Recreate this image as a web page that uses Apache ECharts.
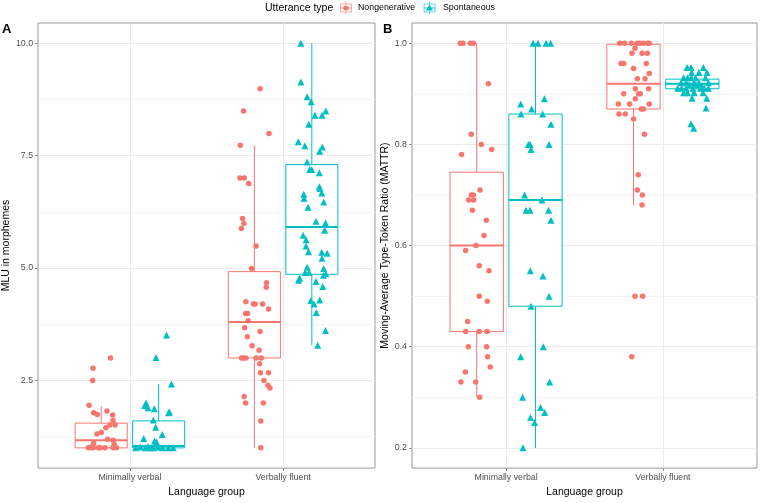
<!DOCTYPE html>
<html><head><meta charset="utf-8">
<script src="https://cdn.jsdelivr.net/npm/echarts@6/dist/echarts.min.js"></script>
<style>html,body{margin:0;padding:0;background:#fff}#c{width:760px;height:503px}</style>
</head><body><div id="c"></div>
<script>
// ---------- data ----------
const categories = ['Minimally verbal', 'Verbally fluent'];
const utteranceTypes = ['Nongenerative', 'Spontaneous'];
const mluTicks = [2.5, 5, 7.5, 10];
const mluMinor = [1.25, 3.75, 6.25, 8.75];
const mattrTicks = [0.2, 0.4, 0.6, 0.8, 1.0];
const mattrMinor = [0.3, 0.5, 0.7, 0.9];

// box stats per category: [low whisker, q1, median, q3, high whisker]
const mluNongenBox = [[1.0, 1.0, 1.17, 1.55, 1.93], [1.0, 3.0, 3.80, 4.92, 7.73]];
const mluSpontBox = [[1.0, 1.0, 1.04, 1.60, 2.42], [3.28, 4.86, 5.91, 7.30, 10.0]];
const mattrNongenBox = [[0.30, 0.43, 0.60, 0.745, 1.0], [0.68, 0.87, 0.92, 0.998, 1.0]];
const mattrSpontBox = [[0.20, 0.48, 0.69, 0.86, 1.0], [0.891, 0.91, 0.92, 0.929, 0.952]];

// jittered points: [group position (jittered), value]
const mluNongenPts = [
  [0.873,3.0],[0.759,2.77],[0.757,2.5],[0.733,1.95],[0.763,1.78],[0.787,1.74],[0.850,1.82],[0.888,1.73],
  [0.890,1.61],[0.869,1.51],[0.903,1.51],[0.843,1.45],[0.813,1.34],[0.785,1.31],[0.854,1.19],[0.890,1.17],
  [0.763,1.10],[0.757,1.04],[0.729,1.0],[0.746,1.0],[0.761,1.0],[0.794,1.0],[0.806,1.0],[0.837,1.0],
  [0.890,1.0],[0.912,1.0],[0.897,1.08],
  [1.850,8.99],[1.742,8.49],[1.908,7.99],[1.721,7.73],[1.718,7.0],[1.746,7.0],[1.776,6.88],[1.735,6.10],
  [1.744,5.99],[1.727,5.88],[1.824,5.49],[1.794,4.99],[1.892,4.67],[1.890,4.57],[1.757,4.25],[1.806,4.2],
  [1.817,4.2],[1.866,4.2],[1.905,4.09],[1.755,3.99],[1.768,3.99],[1.772,3.83],[1.748,3.67],[1.850,3.59],
  [1.766,3.47],[1.798,3.27],[1.843,3.17],[1.729,3.0],[1.740,3.0],[1.757,3.0],[1.824,3.0],[1.858,3.0],
  [1.847,2.87],[1.852,2.67],[1.905,2.67],[1.875,2.5],[1.901,2.39],[1.914,2.33],[1.746,2.14],[1.755,2.0],
  [1.871,2.0],[1.854,1.6],[1.854,1.0]
];
const mluSpontPts = [
  [1.239,3.51],[1.170,3.01],[1.271,2.42],[1.105,2.0],[1.097,1.94],[1.118,1.89],[1.159,1.87],[1.258,1.80],
  [1.252,1.78],[1.153,1.62],[1.168,1.46],[1.211,1.30],[1.090,1.21],[1.161,1.15],[1.174,1.13],[1.037,1.0],
  [1.067,1.02],[1.101,1.0],[1.118,1.03],[1.135,1.0],[1.153,1.0],[1.183,1.02],[1.213,1.0],[1.250,1.0],[1.282,1.0],
  [2.116,10.0],[2.116,9.14],[2.157,8.81],[2.183,8.70],[2.279,8.49],[2.208,8.40],[2.254,8.40],[2.168,8.20],
  [2.099,7.81],[2.142,7.72],[2.256,7.69],[2.239,7.60],[2.157,7.36],[2.174,7.19],[2.187,7.19],[2.237,7.12],
  [2.237,6.81],[2.240,6.77],[2.252,6.67],[2.135,6.64],[2.137,6.55],[2.265,6.47],[2.163,6.35],[2.215,6.04],
  [2.277,6.0],[2.271,5.84],[2.131,5.73],[2.150,5.63],[2.150,5.49],[2.166,5.36],[2.252,5.35],[2.288,5.33],
  [2.254,5.22],[2.157,5.02],[2.265,4.99],[2.144,4.90],[2.170,4.90],[2.263,4.84],[2.279,4.87],[2.108,4.78],
  [2.101,4.73],[2.215,4.70],[2.259,4.59],[2.181,4.28],[2.239,4.29],[2.202,4.20],[2.217,4.01],[2.277,3.61],[2.226,3.28]
];
const mattrNongenPts = [
  [0.708,1.0],[0.725,1.0],[0.772,1.0],[0.791,1.0],[0.887,0.92],[0.778,0.82],[0.842,0.80],[0.716,0.78],
  [0.908,0.79],[0.834,0.71],[0.778,0.70],[0.791,0.70],[0.761,0.69],[0.793,0.69],[0.785,0.67],[0.874,0.65],
  [0.859,0.62],[0.808,0.60],[0.742,0.59],[0.829,0.56],[0.891,0.55],[0.829,0.50],[0.880,0.49],[0.755,0.45],
  [0.742,0.43],[0.829,0.43],[0.878,0.43],[0.759,0.40],[0.876,0.40],[0.882,0.38],[0.899,0.36],[0.740,0.35],
  [0.712,0.33],[0.806,0.33],[0.831,0.30],
  [1.724,1.0],[1.756,1.0],[1.799,1.0],[1.835,1.0],[1.852,1.0],[1.873,1.0],[1.903,1.0],[1.913,1.0],
  [1.822,0.99],[1.803,0.98],[1.867,0.98],[1.901,0.98],[1.733,0.96],[1.750,0.96],[1.894,0.96],[1.813,0.95],
  [1.913,0.94],[1.837,0.93],[1.886,0.93],[1.824,0.91],[1.909,0.91],[1.750,0.90],[1.845,0.90],[1.856,0.90],
  [1.824,0.89],[1.716,0.88],[1.788,0.88],[1.913,0.88],[1.862,0.87],[1.875,0.87],[1.720,0.86],[1.760,0.86],
  [1.813,0.85],[1.882,0.82],[1.843,0.74],[1.837,0.71],[1.869,0.70],[1.867,0.68],[1.822,0.50],[1.871,0.50],[1.801,0.38]
];
const mattrSpontPts = [
  [1.172,1.0],[1.204,1.0],[1.255,1.0],[1.284,1.0],[1.093,0.88],[1.163,0.87],[1.244,0.89],[1.095,0.86],
  [1.233,0.86],[1.286,0.84],[1.142,0.80],[1.153,0.80],[1.274,0.80],[1.159,0.79],[1.118,0.70],[1.229,0.69],
  [1.127,0.67],[1.153,0.67],[1.271,0.67],[1.286,0.65],[1.154,0.55],[1.235,0.54],[1.274,0.50],[1.159,0.48],
  [1.237,0.40],[1.093,0.38],[1.278,0.33],[1.105,0.30],[1.220,0.28],[1.246,0.27],[1.156,0.26],[1.182,0.25],[1.108,0.20],
  [2.154,0.952],[2.179,0.952],[2.258,0.952],[2.183,0.942],[2.230,0.942],[2.281,0.942],[2.132,0.932],[2.157,0.932],
  [2.179,0.932],[2.208,0.932],[2.271,0.932],[2.116,0.922],[2.149,0.922],[2.200,0.922],[2.230,0.922],[2.290,0.922],
  [2.167,0.918],[2.218,0.918],[2.250,0.915],
  [2.094,0.911],[2.119,0.911],[2.147,0.911],[2.192,0.911],[2.239,0.911],[2.264,0.911],[2.290,0.911],[2.132,0.902],
  [2.157,0.902],[2.200,0.902],[2.256,0.902],[2.186,0.891],[2.279,0.891],[2.275,0.872],[2.179,0.841],[2.196,0.832]
];

// ---------- styling / layout ----------
const COLORS = ['#F8766D', '#00BFC4'];
const DODGE = 0.1875;
const BOX_WIDTH = 0.34;
const FONT = '"Liberation Sans", Arial, Helvetica, sans-serif';
const GRID_COLOR = '#EBEBEB';
const MINOR_COLOR = '#F3F3F3';

function boxData(stats, typeIdx) {
  return stats.map((s, ci) => [ci + 1 + (typeIdx === 0 ? -DODGE : DODGE)].concat(s));
}
function boxRender(color) {
  return function (params, api) {
    const x = api.value(0);
    const lo = api.coord([x, api.value(1)]);
    const q1 = api.coord([x, api.value(2)]);
    const md = api.coord([x, api.value(3)]);
    const q3 = api.coord([x, api.value(4)]);
    const hi = api.coord([x, api.value(5)]);
    const hw = api.size([BOX_WIDTH, 0])[0] / 2;
    const cx = lo[0];
    return {
      type: 'group', children: [
        { type: 'line', shape: { x1: cx, y1: hi[1], x2: cx, y2: q3[1] }, style: { stroke: color, lineWidth: 1 } },
        { type: 'line', shape: { x1: cx, y1: q1[1], x2: cx, y2: lo[1] }, style: { stroke: color, lineWidth: 1 } },
        { type: 'rect', shape: { x: cx - hw, y: q3[1], width: 2 * hw, height: q1[1] - q3[1] }, style: { fill: '#fff', stroke: color, lineWidth: 1 } },
        { type: 'line', shape: { x1: cx - hw, y1: md[1], x2: cx + hw, y2: md[1] }, style: { stroke: color, lineWidth: 2 } }
      ]
    };
  };
}
function gridLines(idx, majors, minors) {
  const d = [];
  minors.forEach(v => d.push({ yAxis: v, lineStyle: { color: MINOR_COLOR, width: 1, type: 'solid' } }));
  majors.forEach(v => d.push({ yAxis: v, lineStyle: { color: GRID_COLOR, width: 1, type: 'solid' } }));
  [1, 2].forEach(v => d.push({ xAxis: v, lineStyle: { color: GRID_COLOR, width: 1, type: 'solid' } }));
  return {
    type: 'scatter', xAxisIndex: idx, yAxisIndex: idx, data: [], z: 1, silent: true,
    markLine: { z: 1, symbol: ['none', 'none'], silent: true, animation: false, label: { show: false }, data: d }
  };
}
function xAxisDef(idx) {
  return {
    type: 'value', gridIndex: idx, min: 0.4, max: 2.6,
    name: 'Language group', nameLocation: 'middle', nameGap: 13,
    nameTextStyle: { fontFamily: FONT, fontSize: 10.5, color: '#000' },
    axisLine: { show: false }, splitLine: { show: false },
    axisTick: { show: true, length: 3, customValues: [1, 2], lineStyle: { color: '#8a8a8a' } },
    axisLabel: { customValues: [1, 2], margin: 5, fontFamily: FONT, fontSize: 8.8, color: '#4D4D4D',
      formatter: v => categories[Math.round(v) - 1] }
  };
}
function yAxisDef(idx, min, max, ticks, name, gap) {
  return {
    type: 'value', gridIndex: idx, min: min, max: max,
    name: name, nameLocation: 'middle', nameGap: gap,
    nameTextStyle: { fontFamily: FONT, fontSize: 10.5, color: '#000' },
    axisLine: { show: false }, splitLine: { show: false },
    axisTick: { show: true, length: 3, customValues: ticks, lineStyle: { color: '#8a8a8a' } },
    axisLabel: { customValues: ticks, margin: 5, fontFamily: FONT, fontSize: 8.8, color: '#4D4D4D',
      formatter: v => v.toFixed(1) }
  };
}
function scatter(idx, pts, t) {
  return {
    type: 'scatter', xAxisIndex: idx, yAxisIndex: idx, data: pts, z: 3, name: utteranceTypes[t],
    symbol: t === 0 ? 'circle' : 'triangle', symbolSize: t === 0 ? 5.5 : 7,
    itemStyle: { color: COLORS[t], opacity: 1 }, silent: true
  };
}
function boxes(idx, stats, t) {
  return {
    type: 'custom', xAxisIndex: idx, yAxisIndex: idx, z: 2, silent: true,
    data: boxData(stats, t), encode: { x: 0, y: [1, 2, 3, 4, 5] },
    renderItem: boxRender(COLORS[t])
  };
}
function legendKey(x, t) {
  const c = COLORS[t];
  const pt = t === 0
    ? { type: 'circle', shape: { cx: x + 6, cy: 8, r: 2.6 }, style: { fill: c } }
    : { type: 'polygon', shape: { points: [[x + 6, 4.6], [x + 9.5, 10.6], [x + 2.5, 10.6]] }, style: { fill: c } };
  return [
    { type: 'line', shape: { x1: x + 6, y1: 1.5, x2: x + 6, y2: 14.5 }, style: { stroke: c, lineWidth: 1, opacity: 0.6 } },
    { type: 'rect', shape: { x: x + 0.5, y: 4, width: 11, height: 8 }, style: { fill: '#fff', stroke: c, lineWidth: 1, opacity: 0.6 } },
    { type: 'line', shape: { x1: x + 0.5, y1: 8, x2: x + 11.5, y2: 8 }, style: { stroke: c, lineWidth: 1.5, opacity: 0.6 } },
    pt
  ];
}

const chart = echarts.init(document.getElementById('c'), null, { renderer: 'canvas' });
chart.setOption({
  animation: false,
  backgroundColor: '#fff',
  textStyle: { fontFamily: FONT },
  grid: [
    { left: 34, top: 23, width: 341, height: 454, show: true, borderColor: '#9a9a9a', borderWidth: 1, backgroundColor: 'transparent', containLabel: false },
    { left: 412, top: 23, width: 345, height: 454, show: true, borderColor: '#9a9a9a', borderWidth: 1, backgroundColor: 'transparent', containLabel: false }
  ],
  xAxis: [xAxisDef(0), xAxisDef(1)],
  yAxis: [
    yAxisDef(0, 0.55, 10.45, mluTicks, 'MLU in morphemes', 20),
    yAxisDef(1, 0.16, 1.04, mattrTicks, 'Moving-Average Type-Token Ratio (MATTR)', 18)
  ],
  series: [
    gridLines(0, mluTicks, mluMinor),
    gridLines(1, mattrTicks, mattrMinor),
    boxes(0, mluNongenBox, 0), boxes(0, mluSpontBox, 1),
    boxes(1, mattrNongenBox, 0), boxes(1, mattrSpontBox, 1),
    scatter(0, mluNongenPts, 0), scatter(0, mluSpontPts, 1),
    scatter(1, mattrNongenPts, 0), scatter(1, mattrSpontPts, 1)
  ],
  graphic: [
    { type: 'text', left: 2, top: 23, style: { text: 'A', font: 'bold 13px ' + FONT, fill: '#000' } },
    { type: 'text', left: 383, top: 23, style: { text: 'B', font: 'bold 13px ' + FONT, fill: '#000' } },
    { type: 'text', x: 265, y: 8, style: { text: 'Utterance type', font: '10.5px ' + FONT, fill: '#000', verticalAlign: 'middle' } },
    { type: 'group', children: legendKey(340, 0) },
    { type: 'text', x: 358, y: 8, style: { text: utteranceTypes[0], font: '8.8px ' + FONT, fill: '#000', verticalAlign: 'middle' } },
    { type: 'group', children: legendKey(423.5, 1) },
    { type: 'text', x: 443, y: 8, style: { text: utteranceTypes[1], font: '8.8px ' + FONT, fill: '#000', verticalAlign: 'middle' } }
  ]
});
</script>
</body></html>
